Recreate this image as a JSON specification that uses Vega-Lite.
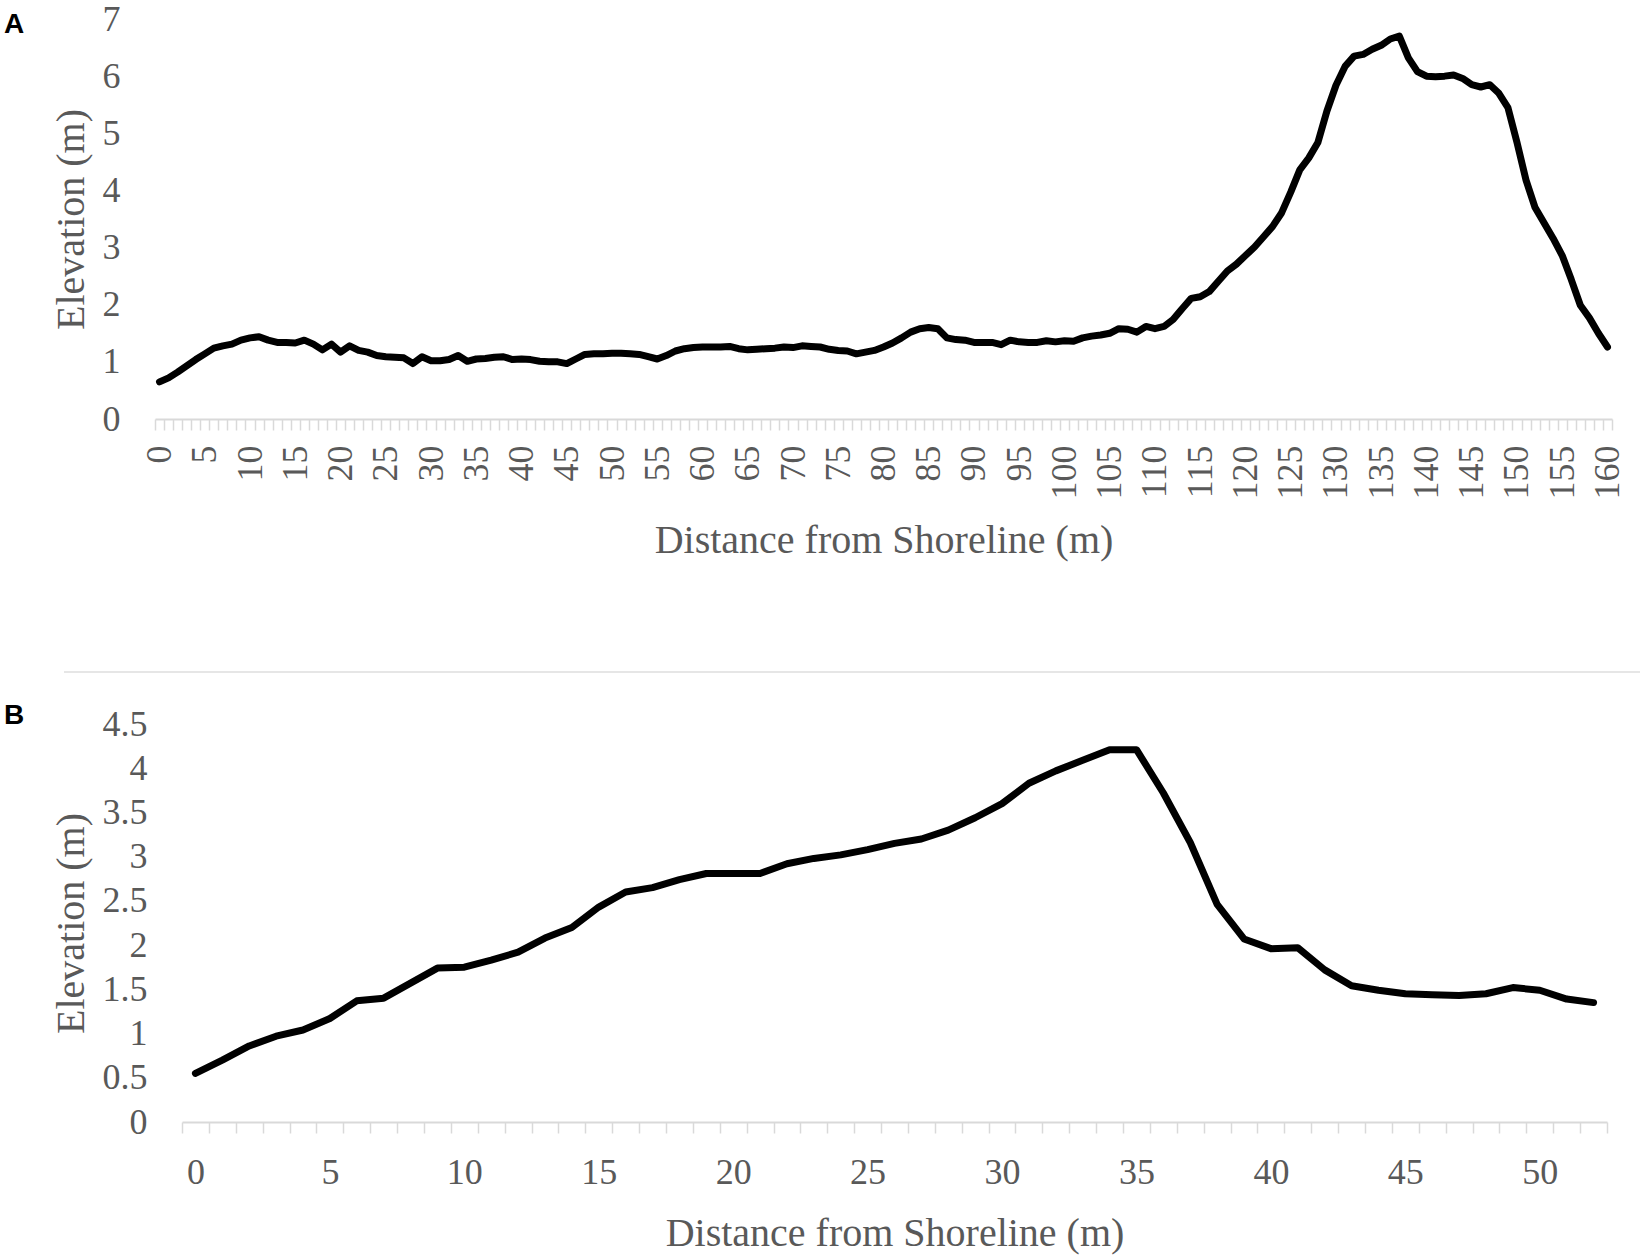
{
  "$schema": "https://vega.github.io/schema/vega-lite/v6.json",
  "padding": {"left": 4, "top": 1, "right": 8, "bottom": 2},
  "background": "white",
  "datasets": {
    "profileA": [
      {"d": 0, "e": 0.65}, {"d": 1, "e": 0.72}, {"d": 2, "e": 0.82}, {"d": 3, "e": 0.93}, {"d": 4, "e": 1.04},
      {"d": 5, "e": 1.14}, {"d": 6, "e": 1.24}, {"d": 7, "e": 1.28}, {"d": 8, "e": 1.31}, {"d": 9, "e": 1.38},
      {"d": 10, "e": 1.42}, {"d": 11, "e": 1.44}, {"d": 12, "e": 1.38}, {"d": 13, "e": 1.34}, {"d": 14, "e": 1.34},
      {"d": 15, "e": 1.33}, {"d": 16, "e": 1.38}, {"d": 17, "e": 1.31}, {"d": 18, "e": 1.21}, {"d": 19, "e": 1.31},
      {"d": 20, "e": 1.17}, {"d": 21, "e": 1.28}, {"d": 22, "e": 1.2}, {"d": 23, "e": 1.17}, {"d": 24, "e": 1.11},
      {"d": 25, "e": 1.09}, {"d": 26, "e": 1.08}, {"d": 27, "e": 1.07}, {"d": 28, "e": 0.97}, {"d": 29, "e": 1.09},
      {"d": 30, "e": 1.02}, {"d": 31, "e": 1.02}, {"d": 32, "e": 1.04}, {"d": 33, "e": 1.11}, {"d": 34, "e": 1.01},
      {"d": 35, "e": 1.05}, {"d": 36, "e": 1.06}, {"d": 37, "e": 1.08}, {"d": 38, "e": 1.09}, {"d": 39, "e": 1.04},
      {"d": 40, "e": 1.05}, {"d": 41, "e": 1.04}, {"d": 42, "e": 1.01}, {"d": 43, "e": 1.0}, {"d": 44, "e": 1.0},
      {"d": 45, "e": 0.97}, {"d": 46, "e": 1.05}, {"d": 47, "e": 1.13}, {"d": 48, "e": 1.14}, {"d": 49, "e": 1.14},
      {"d": 50, "e": 1.15}, {"d": 51, "e": 1.15}, {"d": 52, "e": 1.14}, {"d": 53, "e": 1.13}, {"d": 54, "e": 1.09},
      {"d": 55, "e": 1.05}, {"d": 56, "e": 1.11}, {"d": 57, "e": 1.19}, {"d": 58, "e": 1.23}, {"d": 59, "e": 1.25},
      {"d": 60, "e": 1.26}, {"d": 61, "e": 1.26}, {"d": 62, "e": 1.26}, {"d": 63, "e": 1.27}, {"d": 64, "e": 1.23},
      {"d": 65, "e": 1.21}, {"d": 66, "e": 1.22}, {"d": 67, "e": 1.23}, {"d": 68, "e": 1.24}, {"d": 69, "e": 1.26},
      {"d": 70, "e": 1.25}, {"d": 71, "e": 1.28}, {"d": 72, "e": 1.27}, {"d": 73, "e": 1.26}, {"d": 74, "e": 1.22},
      {"d": 75, "e": 1.2}, {"d": 76, "e": 1.19}, {"d": 77, "e": 1.14}, {"d": 78, "e": 1.17}, {"d": 79, "e": 1.2},
      {"d": 80, "e": 1.26}, {"d": 81, "e": 1.33}, {"d": 82, "e": 1.42}, {"d": 83, "e": 1.52}, {"d": 84, "e": 1.58},
      {"d": 85, "e": 1.6}, {"d": 86, "e": 1.58}, {"d": 87, "e": 1.42}, {"d": 88, "e": 1.39}, {"d": 89, "e": 1.38},
      {"d": 90, "e": 1.34}, {"d": 91, "e": 1.34}, {"d": 92, "e": 1.34}, {"d": 93, "e": 1.3}, {"d": 94, "e": 1.38},
      {"d": 95, "e": 1.35}, {"d": 96, "e": 1.34}, {"d": 97, "e": 1.34}, {"d": 98, "e": 1.37}, {"d": 99, "e": 1.35},
      {"d": 100, "e": 1.37}, {"d": 101, "e": 1.36}, {"d": 102, "e": 1.42}, {"d": 103, "e": 1.45}, {"d": 104, "e": 1.47},
      {"d": 105, "e": 1.5}, {"d": 106, "e": 1.58}, {"d": 107, "e": 1.57}, {"d": 108, "e": 1.52}, {"d": 109, "e": 1.62},
      {"d": 110, "e": 1.58}, {"d": 111, "e": 1.62}, {"d": 112, "e": 1.74}, {"d": 113, "e": 1.93}, {"d": 114, "e": 2.11},
      {"d": 115, "e": 2.14}, {"d": 116, "e": 2.23}, {"d": 117, "e": 2.41}, {"d": 118, "e": 2.59}, {"d": 119, "e": 2.71},
      {"d": 120, "e": 2.86}, {"d": 121, "e": 3.01}, {"d": 122, "e": 3.19}, {"d": 123, "e": 3.37}, {"d": 124, "e": 3.61},
      {"d": 125, "e": 3.97}, {"d": 126, "e": 4.36}, {"d": 127, "e": 4.57}, {"d": 128, "e": 4.84}, {"d": 129, "e": 5.39},
      {"d": 130, "e": 5.84}, {"d": 131, "e": 6.17}, {"d": 132, "e": 6.35}, {"d": 133, "e": 6.38}, {"d": 134, "e": 6.47},
      {"d": 135, "e": 6.54}, {"d": 136, "e": 6.65}, {"d": 137, "e": 6.7}, {"d": 138, "e": 6.32}, {"d": 139, "e": 6.08},
      {"d": 140, "e": 6.0}, {"d": 141, "e": 5.99}, {"d": 142, "e": 6.0}, {"d": 143, "e": 6.02}, {"d": 144, "e": 5.96},
      {"d": 145, "e": 5.85}, {"d": 146, "e": 5.81}, {"d": 147, "e": 5.85}, {"d": 148, "e": 5.7}, {"d": 149, "e": 5.45},
      {"d": 150, "e": 4.84}, {"d": 151, "e": 4.18}, {"d": 152, "e": 3.7}, {"d": 153, "e": 3.43}, {"d": 154, "e": 3.16},
      {"d": 155, "e": 2.86}, {"d": 156, "e": 2.44}, {"d": 157, "e": 1.99}, {"d": 158, "e": 1.77}, {"d": 159, "e": 1.5},
      {"d": 160, "e": 1.26}
    ],
    "profileB": [
      {"d": 0, "e": 0.55}, {"d": 1, "e": 0.7}, {"d": 2, "e": 0.86}, {"d": 3, "e": 0.97}, {"d": 4, "e": 1.04},
      {"d": 5, "e": 1.17}, {"d": 6, "e": 1.37}, {"d": 7, "e": 1.4}, {"d": 8, "e": 1.57}, {"d": 9, "e": 1.74},
      {"d": 10, "e": 1.75}, {"d": 11, "e": 1.83}, {"d": 12, "e": 1.92}, {"d": 13, "e": 2.08}, {"d": 14, "e": 2.2},
      {"d": 15, "e": 2.43}, {"d": 16, "e": 2.6}, {"d": 17, "e": 2.65}, {"d": 18, "e": 2.74}, {"d": 19, "e": 2.81},
      {"d": 20, "e": 2.81}, {"d": 21, "e": 2.81}, {"d": 22, "e": 2.92}, {"d": 23, "e": 2.98}, {"d": 24, "e": 3.02},
      {"d": 25, "e": 3.08}, {"d": 26, "e": 3.15}, {"d": 27, "e": 3.2}, {"d": 28, "e": 3.3}, {"d": 29, "e": 3.44},
      {"d": 30, "e": 3.6}, {"d": 31, "e": 3.83}, {"d": 32, "e": 3.97}, {"d": 33, "e": 4.09}, {"d": 34, "e": 4.21},
      {"d": 35, "e": 4.21}, {"d": 36, "e": 3.72}, {"d": 37, "e": 3.16}, {"d": 38, "e": 2.46}, {"d": 39, "e": 2.07},
      {"d": 40, "e": 1.96}, {"d": 41, "e": 1.97}, {"d": 42, "e": 1.72}, {"d": 43, "e": 1.54}, {"d": 44, "e": 1.49},
      {"d": 45, "e": 1.45}, {"d": 46, "e": 1.44}, {"d": 47, "e": 1.43}, {"d": 48, "e": 1.45}, {"d": 49, "e": 1.52},
      {"d": 50, "e": 1.49}, {"d": 51, "e": 1.39}, {"d": 52, "e": 1.35}
    ]
  },
  "columns": 1,
  "align": "none",
  "spacing": 29,
  "concat": [
    {
      "width": 1430,
      "height": 400,
      "title": {"text": "A", "dx": -178, "dy": 3, "offset": -35},
      "data": {"name": "profileA"},
      "mark": {"type": "line", "color": "black", "strokeWidth": 7, "strokeJoin": "round", "strokeCap": "round"},
      "encoding": {
        "x": {
          "field": "d",
          "type": "ordinal",
          "bandPosition": 0.5,
          "scale": {"type": "band", "paddingInner": 0, "paddingOuter": 0, "range": [-27, 1430]},
          "axis": {
            "title": "Distance from Shoreline (m)",
            "tickBand": "extent",
            "labelAngle": -90,
            "labelOverlap": false,
            "labelPadding": 15,
            "titlePadding": 21,
            "labelExpr": "datum.value % 5 === 0 ? datum.label : ''"
          }
        },
        "y": {
          "field": "e",
          "type": "quantitative",
          "scale": {"domain": [0, 7], "nice": false},
          "axis": {
            "title": "Elevation (m)",
            "values": [0, 1, 2, 3, 4, 5, 6, 7],
            "ticks": false,
            "domain": false,
            "grid": false,
            "labelPadding": 62,
            "titlePadding": 11
          }
        }
      }
    },
    {
      "width": 1425,
      "height": 83,
      "data": {"values": [{"s": 0}]},
      "mark": {"type": "rule", "color": "#e6e6e6", "strokeWidth": 2},
      "encoding": {
        "x": {"datum": 0, "scale": {"domain": [0, 1], "range": [-118, 1458]}, "axis": null},
        "x2": {"datum": 1},
        "y": {"datum": 0, "scale": {"domain": [0, 1]}, "axis": null}
      }
    },
    {
      "width": 1425,
      "height": 398,
      "title": {"text": "B", "dx": -178, "dy": -9, "offset": -33},
      "data": {"name": "profileB"},
      "mark": {"type": "line", "color": "black", "strokeWidth": 7, "strokeJoin": "round", "strokeCap": "round"},
      "encoding": {
        "x": {
          "field": "d",
          "type": "ordinal",
          "bandPosition": 0.5,
          "scale": {"type": "band", "paddingInner": 0, "paddingOuter": 0},
          "axis": {
            "title": "Distance from Shoreline (m)",
            "tickBand": "extent",
            "labelAngle": 0,
            "labelOverlap": false,
            "labelPadding": 22,
            "titlePadding": 23,
            "labelExpr": "datum.value % 5 === 0 ? datum.label : ''"
          }
        },
        "y": {
          "field": "e",
          "type": "quantitative",
          "scale": {"domain": [0, 4.5], "nice": false},
          "axis": {
            "title": "Elevation (m)",
            "values": [0, 0.5, 1, 1.5, 2, 2.5, 3, 3.5, 4, 4.5],
            "format": "~g",
            "ticks": false,
            "domain": false,
            "grid": false,
            "labelPadding": 35,
            "titlePadding": 11
          }
        }
      }
    }
  ],
  "config": {
    "view": {"stroke": null},
    "axis": {
      "labelFont": "Liberation Serif",
      "labelFontSize": 36,
      "labelColor": "#595959",
      "titleFont": "Liberation Serif",
      "titleFontSize": 40,
      "titleFontWeight": "normal",
      "titleColor": "#595959",
      "domainColor": "#d9d9d9",
      "domainWidth": 2,
      "tickColor": "#d9d9d9",
      "tickWidth": 1.5,
      "tickSize": 11
    },
    "title": {
      "font": "Liberation Sans",
      "fontSize": 28,
      "fontWeight": "bold",
      "color": "black",
      "anchor": "start",
      "frame": "group",
      "baseline": "top",
      "offset": 0
    }
  }
}
